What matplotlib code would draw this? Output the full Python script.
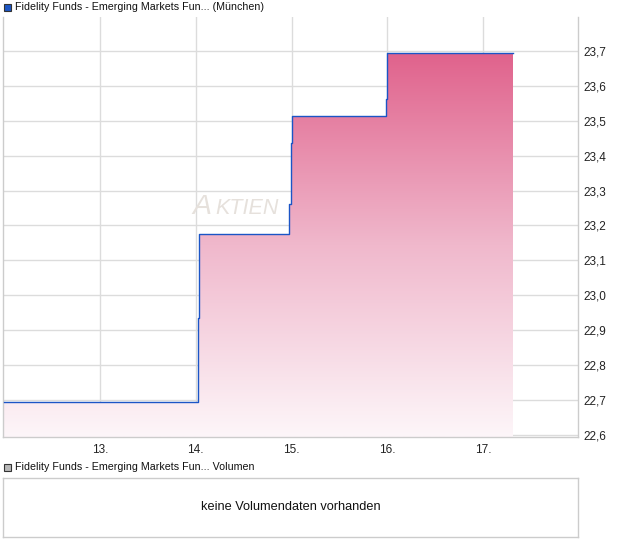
import matplotlib
matplotlib.use("Agg")
import matplotlib.pyplot as plt
import numpy as np
from matplotlib.colors import LinearSegmentedColormap
from matplotlib.patches import Rectangle

plt.rcParams['font.family'] = ['Liberation Sans', 'DejaVu Sans']

# ---- data (fractional day of month, price) ----
day = [12.0, 14.027, 14.037, 14.977, 14.992, 15.002, 15.984, 15.994, 16.0, 17.313]
price = [22.695, 22.935, 23.175, 23.262, 23.436, 23.513, 23.562, 23.651, 23.695, 23.695]
xticks = [13, 14, 15, 16, 17]
xticklabels = ["13.", "14.", "15.", "16.", "17."]
yticks = [22.6, 22.7, 22.8, 22.9, 23.0, 23.1, 23.2, 23.3, 23.4, 23.5, 23.6, 23.7]
yticklabels = [f"{v:.1f}".replace(".", ",") for v in yticks]
title_main = "Fidelity Funds - Emerging Markets Fun... (München)"
title_vol = "Fidelity Funds - Emerging Markets Fun... Volumen"
no_vol = "keine Volumendaten vorhanden"

W, H = 620, 546
fig = plt.figure(figsize=(W / 100, H / 100), dpi=100)

def fx(px):
    return px / W

def fy(py):
    return 1 - py / H

grid_c = "#dcdcdc"
line_c = "#1b55c6"

ax = fig.add_axes([fx(3), fy(437), fx(578 - 3), (437 - 17) / H])
ymin, ymax = 22.594, 23.797
ax.set_xlim(11.987, 17.992)
ax.set_ylim(ymin, ymax)

# gradient fill under the line
cmap = LinearSegmentedColormap.from_list("pinkgrad", ["#fdf6f9", "#f0b8cc", "#e0628c"])
poly = ax.fill_between(day, price, ymin, step="post", color="none", lw=0)
grad = np.linspace(0, 1, 256).reshape(-1, 1)
im = ax.imshow(grad, extent=[day[0], day[-1], ymin, max(price)], origin="lower",
               aspect="auto", cmap=cmap, zorder=2)
path = poly.get_paths()[0]
im.set_clip_path(path, transform=ax.transData)

ax.plot(day, price, drawstyle="steps-post", color=line_c, lw=1.0, zorder=3)

ax.set_xticks(xticks)
ax.set_xticklabels(xticklabels)
ax.set_yticks(yticks)
ax.set_yticklabels(yticklabels)
ax.yaxis.tick_right()
ax.tick_params(axis="both", length=0, labelsize=8.5, colors="#222222")
ax.tick_params(axis="y", pad=4)
ax.tick_params(axis="x", pad=5)
ax.grid(True, color=grid_c, lw=1, zorder=0)
ax.set_axisbelow(True)
ax.spines["top"].set_visible(False)
for s in ["left", "bottom", "right"]:
    ax.spines[s].set_color("#cccccc")
    ax.spines[s].set_linewidth(1)

# watermark
ax.text(0.330, 0.531, "A", transform=ax.transAxes, fontsize=20.5, style="italic",
        color="#e6e1dc", ha="left", va="baseline", zorder=1)
ax.text(0.369, 0.531, "KTIEN", transform=ax.transAxes, fontsize=15.5, style="italic",
        color="#e6e1dc", ha="left", va="baseline", zorder=1)

# titles
fig.patches.append(Rectangle((fx(4), fy(11)), 7 / W, 7 / H, transform=fig.transFigure,
                             facecolor="#1d56c4", edgecolor="#333333", lw=0.8))
fig.text(fx(15), fy(7), title_main, fontsize=7.65, va="center", ha="left", color="#111111")

fig.patches.append(Rectangle((fx(4), fy(471)), 7 / W, 7 / H, transform=fig.transFigure,
                             facecolor="#b8b8b8", edgecolor="#333333", lw=0.8))
fig.text(fx(15), fy(467), title_vol, fontsize=7.65, va="center", ha="left", color="#111111")

# volume panel
axv = fig.add_axes([fx(3), fy(537), fx(578 - 3), (537 - 478) / H])
axv.set_xticks([])
axv.set_yticks([])
for s in axv.spines.values():
    s.set_color("#cccccc")
    s.set_linewidth(1)
axv.text(0.5, 0.5, no_vol, transform=axv.transAxes, ha="center", va="center",
         fontsize=9.2, color="#111111")

fig.savefig("out.png", dpi=100)
